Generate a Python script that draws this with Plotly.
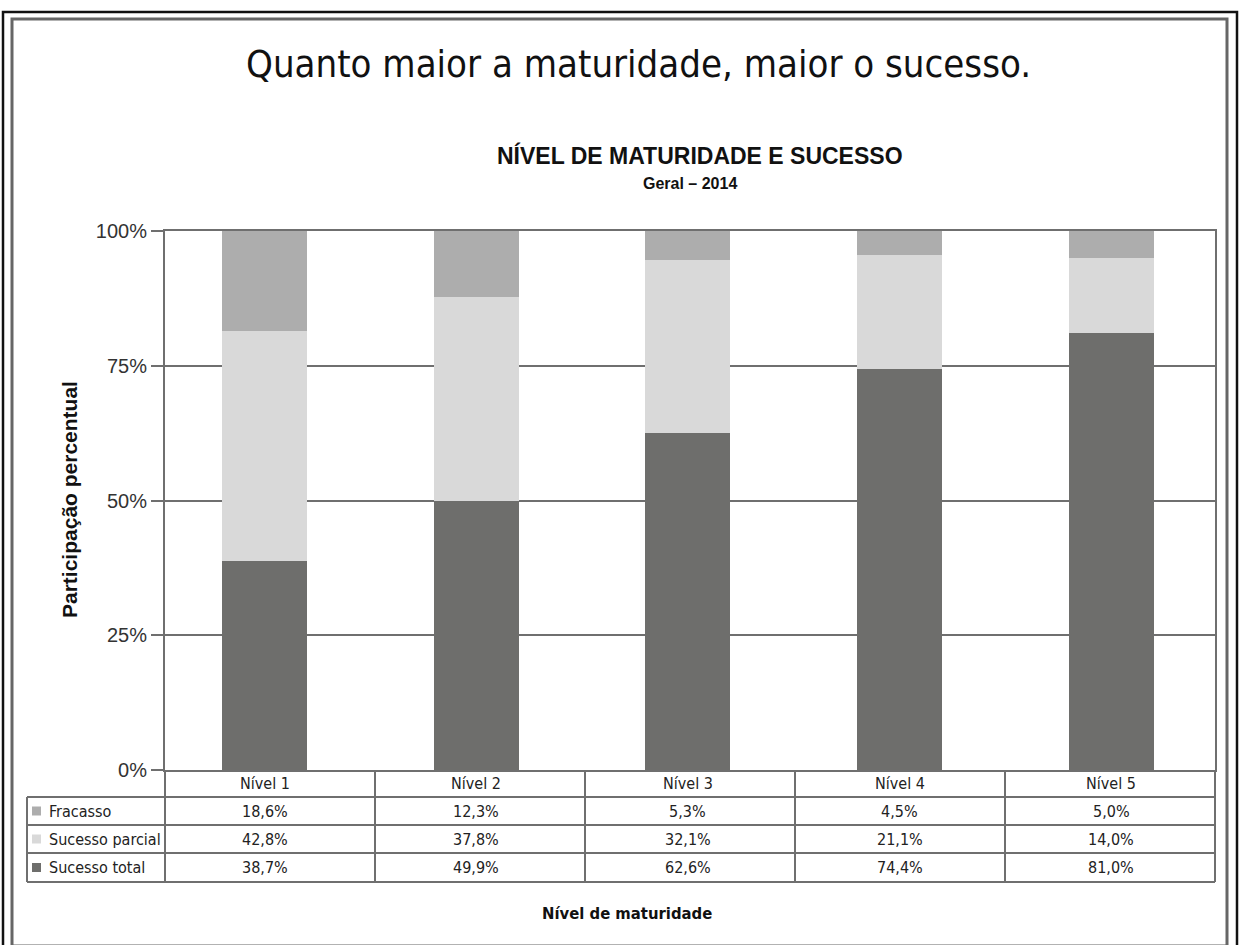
import plotly.graph_objects as go

# ---- data ----
niveis = ["Nível 1", "Nível 2", "Nível 3", "Nível 4", "Nível 5"]
series_names = ["Fracasso", "Sucesso parcial", "Sucesso total"]
fracasso = [18.6, 12.3, 5.3, 4.5, 5.0]
sucesso_parcial = [42.8, 37.8, 32.1, 21.1, 14.0]
sucesso_total = [38.7, 49.9, 62.6, 74.4, 81.0]
y_ticks = [0, 25, 50, 75, 100]
y_tick_labels = ["0%", "25%", "50%", "75%", "100%"]

# ---- styling ----
W, H = 1239, 945
ML, MR, MT, MB = 165, 24, 231, 175
PW, PH = W - ML - MR, H - MT - MB
COLORS = {"Fracasso": "#adadad", "Sucesso parcial": "#d9d9d9", "Sucesso total": "#6e6e6c"}
LINE = "#6f6f6f"
TXT = "#222222"
NARROW = "DejaVu Sans Condensed, Liberation Sans Narrow, Arial Narrow, sans-serif"
SANS = "Liberation Sans, Arial, Helvetica, sans-serif"


def px_x(px):
    return (px - ML) / PW


def px_y(py):
    return (H - MB - py) / PH


def pct(v):
    return f"{v:.1f}".replace(".", ",") + "%"


fig = go.Figure()

# stacked bars: bottom to top
for name, vals in [("Sucesso total", sucesso_total),
                   ("Sucesso parcial", sucesso_parcial),
                   ("Fracasso", fracasso)]:
    fig.add_trace(go.Bar(
        x=niveis, y=vals, name=name,
        marker=dict(color=COLORS[name], line=dict(width=0)),
        width=0.402, hoverinfo="skip",
    ))

shapes = []
annotations = []

# outer frame (black) and inner frame (gray)
shapes.append(dict(type="rect", xref="paper", yref="paper",
                   x0=px_x(3), x1=px_x(1237), y0=px_y(950), y1=px_y(12),
                   line=dict(color="#111111", width=2.5), layer="below"))
shapes.append(dict(type="rect", xref="paper", yref="paper",
                   x0=px_x(12), x1=px_x(1227), y0=px_y(946), y1=px_y(19),
                   line=dict(color="#666666", width=3), layer="below"))

# data table below the plot
row_y = [770, 797, 825, 853, 882]          # horizontal rules (px)
col_x = [ML + i * PW / len(niveis) for i in range(len(niveis) + 1)]
legend_left = 27

# horizontal rules
shapes.append(dict(type="line", xref="paper", yref="paper",
                   x0=px_x(ML), x1=px_x(W - MR), y0=px_y(row_y[1]), y1=px_y(row_y[1]),
                   line=dict(color=LINE, width=2)))
for ry in row_y[1:]:
    shapes.append(dict(type="line", xref="paper", yref="paper",
                       x0=px_x(legend_left), x1=px_x(W - MR), y0=px_y(ry), y1=px_y(ry),
                       line=dict(color=LINE, width=2)))
# vertical rules
for cx in col_x:
    shapes.append(dict(type="line", xref="paper", yref="paper",
                       x0=px_x(cx), x1=px_x(cx), y0=px_y(row_y[0]), y1=px_y(row_y[-1]),
                       line=dict(color=LINE, width=2)))
shapes.append(dict(type="line", xref="paper", yref="paper",
                   x0=px_x(legend_left), x1=px_x(legend_left), y0=px_y(row_y[1]), y1=px_y(row_y[-1]),
                   line=dict(color=LINE, width=2)))

# header row: level names
for nv in niveis:
    annotations.append(dict(x=nv, xref="x", y=px_y((row_y[0] + row_y[1]) / 2), yref="paper",
                            text=nv, showarrow=False, xanchor="center", yanchor="middle",
                            font=dict(family=NARROW, size=16, color=TXT)))

# value rows with legend keys
table_rows = [("Fracasso", fracasso), ("Sucesso parcial", sucesso_parcial),
              ("Sucesso total", sucesso_total)]
for r, (name, vals) in enumerate(table_rows):
    yc = (row_y[r + 1] + row_y[r + 2]) / 2
    shapes.append(dict(type="rect", xref="paper", yref="paper",
                       x0=px_x(32), x1=px_x(41), y0=px_y(yc + 4.5), y1=px_y(yc - 4.5),
                       fillcolor=COLORS[name], line=dict(width=0)))
    annotations.append(dict(x=px_x(47), xref="paper", y=px_y(yc), yref="paper",
                            text=name, showarrow=False, xanchor="left", yanchor="middle",
                            font=dict(family=NARROW, size=16, color=TXT)))
    for nv, v in zip(niveis, vals):
        annotations.append(dict(x=nv, xref="x", y=px_y(yc), yref="paper",
                                text=pct(v), showarrow=False, xanchor="center", yanchor="middle",
                                font=dict(family=NARROW, size=16, color=TXT)))

# titles
annotations.append(dict(x=px_x(638), y=px_y(64), xref="paper", yref="paper",
                        text="Quanto maior a maturidade, maior o sucesso.", showarrow=False,
                        xanchor="center", yanchor="middle",
                        font=dict(family=NARROW, size=38, color="#111111")))
annotations.append(dict(x=px_x(700), y=px_y(156), xref="paper", yref="paper",
                        text="<b>NÍVEL DE MATURIDADE E SUCESSO</b>", showarrow=False,
                        xanchor="center", yanchor="middle",
                        font=dict(family=SANS, size=23, color="#111111")))
annotations.append(dict(x=px_x(690), y=px_y(184), xref="paper", yref="paper",
                        text="<b>Geral – 2014</b>", showarrow=False,
                        xanchor="center", yanchor="middle",
                        font=dict(family=SANS, size=16, color="#111111")))
annotations.append(dict(x=px_x(69), y=px_y(500), xref="paper", yref="paper",
                        text="<b>Participação percentual</b>", showarrow=False, textangle=-90,
                        xanchor="center", yanchor="middle",
                        font=dict(family=SANS, size=21, color="#111111")))
annotations.append(dict(x=px_x(627), y=px_y(913), xref="paper", yref="paper",
                        text="<b>Nível de maturidade</b>", showarrow=False,
                        xanchor="center", yanchor="middle",
                        font=dict(family=NARROW, size=16.5, color="#111111")))

fig.update_layout(
    width=W, height=H, autosize=False,
    margin=dict(l=ML, r=MR, t=MT, b=MB, pad=0),
    paper_bgcolor="white", plot_bgcolor="white",
    barmode="stack", showlegend=False,
    shapes=shapes, annotations=annotations,
    xaxis=dict(type="category", categoryorder="array", categoryarray=niveis,
               range=[-0.47, len(niveis) - 0.51], showticklabels=False, ticks="",
               showgrid=False, zeroline=False,
               showline=True, linecolor=LINE, linewidth=2, mirror=True),
    yaxis=dict(range=[0, 100], tickvals=y_ticks, ticktext=y_tick_labels,
               ticks="outside", ticklen=12, tickwidth=2, tickcolor=LINE,
               tickfont=dict(family=SANS, size=20, color="#333333"),
               showgrid=True, gridcolor=LINE, gridwidth=2, zeroline=False,
               showline=True, linecolor=LINE, linewidth=2, mirror=True),
)

fig.write_html("out.html")
